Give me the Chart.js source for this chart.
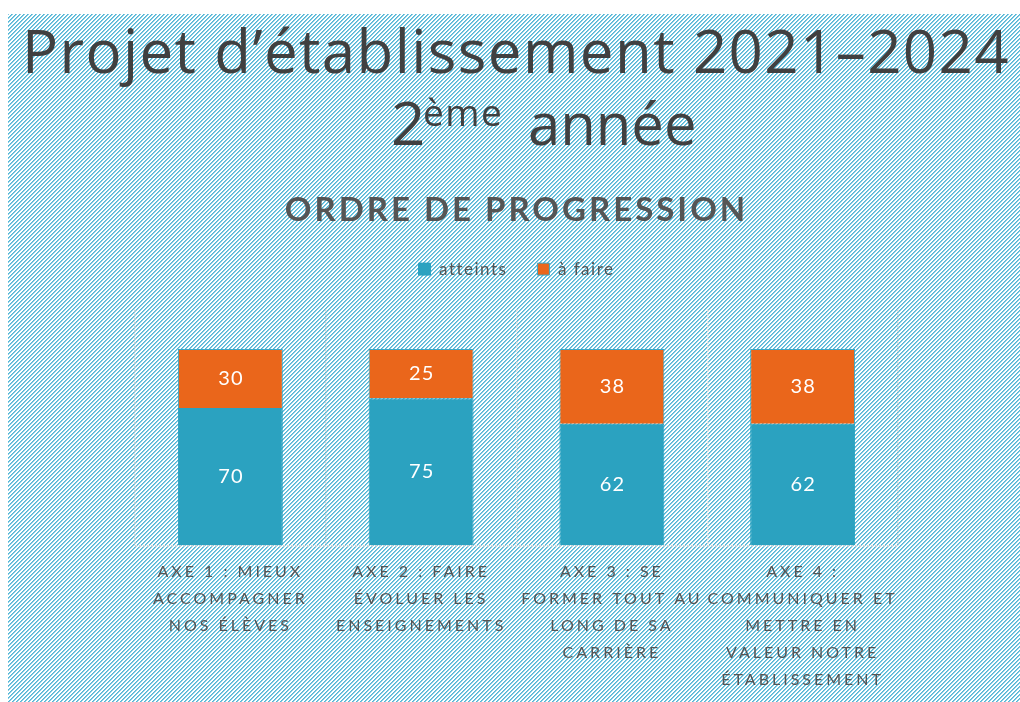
<!DOCTYPE html>
<html><head><meta charset="utf-8">
<script src="https://cdn.jsdelivr.net/npm/chart.js@4.4.1/dist/chart.umd.min.js"></script>
<style>
html,body{margin:0;padding:0;background:#fff;}
#wrap{position:relative;width:1020px;height:702px;overflow:hidden;}
canvas{position:absolute;left:0;top:0;}
.t{position:absolute;font-family:"Open Sans";color:#404040;white-space:nowrap;line-height:1;font-size:60px;letter-spacing:1.4px;}
.t span{position:absolute;top:0;line-height:1;}
</style></head><body>
<div id="wrap">
<canvas id="c" width="1020" height="702"></canvas>
<div class="t" id="t1" style="left:22px;top:20px;">Projet d’établissement 2021–2024</div>
<div class="t" id="t2" style="left:0;top:92px;width:1020px;height:70px;letter-spacing:0;"><span style="left:391px;">2</span><span style="left:423px;top:1px;font-size:37px;letter-spacing:1.5px;">ème</span><span style="left:528px;font-size:58px;top:2px;">année</span></div>
</div>
<script>
const categories = [
  ["AXE 1 : MIEUX", "ACCOMPAGNER", "NOS ÉLÈVES"],
  ["AXE 2 : FAIRE", "ÉVOLUER LES", "ENSEIGNEMENTS"],
  ["AXE 3 : SE", "FORMER TOUT AU", "LONG DE SA", "CARRIÈRE"],
  ["AXE 4 :", "COMMUNIQUER ET", "METTRE EN", "VALEUR NOTRE", "ÉTABLISSEMENT"]
];
const seriesNames = ["atteints", "à faire"];
const atteints = [70, 75, 62, 62];
const aFaire = [30, 25, 38, 38];
const chartTitle = "ORDRE DE PROGRESSION";

const BLUE = '#2ba2c0';
const ORANGE = '#ea661b';
const GRAY = '#555555';

function makePattern(ctx) {
  const p = document.createElement('canvas');
  p.width = 4; p.height = 4;
  const g = p.getContext('2d');
  g.fillStyle = '#ffffff'; g.fillRect(0, 0, 4, 4);
  for (let x = 0; x < 4; x++) {
    g.fillStyle = '#52b6d6';
    g.fillRect(x, 3 - x, 1, 1);
    g.fillStyle = '#86cbe2';
    g.fillRect(x, (4 - x) % 4, 1, 1);
  }
  return ctx.createPattern(p, 'repeat');
}

const bgPlugin = {
  id: 'bg',
  beforeDraw(chart) {
    const ctx = chart.ctx;
    ctx.save();
    ctx.fillStyle = '#fff';
    ctx.fillRect(0, 0, chart.width, chart.height);
    ctx.translate(8, 14);
    ctx.fillStyle = makePattern(ctx);
    ctx.fillRect(0, 0, chart.width - 8, chart.height - 14);
    ctx.restore();
  }
};

const spacingPlugin = {
  id: 'spacing',
  beforeLayout(chart) { chart.ctx.letterSpacing = '1.5px'; },
  beforeDraw(chart) {
    chart.ctx.letterSpacing = '1.5px';
    const s = chart.scales.x;
    if (s && !s.__w) {
      const o = s.drawLabels;
      s.drawLabels = function (a) { const c = this.ctx; c.save(); c.letterSpacing = '3px'; o.call(this, a); c.restore(); };
      s.__w = true;
    }
    const t = chart.titleBlock;
    if (t && !t.__w) {
      const o = t.draw;
      t.draw = function (a) { const c = this.ctx; c.save(); c.letterSpacing = '3px'; o.call(this, a); c.restore(); };
      t.__w = true;
    }
  }
};

const valuesPlugin = {
  id: 'vals',
  afterDatasetsDraw(chart) {
    const ctx = chart.ctx;
    ctx.save();
    ctx.letterSpacing = '1px';
    ctx.font = '20px Lato';
    ctx.fillStyle = '#ffffff';
    ctx.textAlign = 'center';
    ctx.textBaseline = 'middle';
    chart.data.datasets.forEach((ds, i) => {
      const meta = chart.getDatasetMeta(i);
      meta.data.forEach((el, j) => {
        const p = el.getProps(['x', 'y', 'base'], true);
        ctx.fillText(String(ds.data[j]), p.x + 0.5, (p.y + p.base) / 2);
      });
    });
    ctx.restore();
  }
};

new Chart(document.getElementById('c'), {
  type: 'bar',
  data: {
    labels: categories,
    datasets: [
      { label: seriesNames[0], data: atteints, backgroundColor: BLUE, borderColor: BLUE, borderWidth: 1, barPercentage: 0.55, categoryPercentage: 1 },
      { label: seriesNames[1], data: aFaire, backgroundColor: ORANGE, borderColor: '#3aa8c6', borderWidth: 1, barPercentage: 0.55, categoryPercentage: 1 }
    ]
  },
  plugins: [bgPlugin, spacingPlugin, valuesPlugin],
  options: {
    responsive: false,
    animation: false,
    devicePixelRatio: 1,
    layout: { padding: { top: 191, left: 135, right: 122, bottom: -3 } },
    plugins: {
      title: { display: true, text: chartTitle, color: GRAY, font: { family: 'Lato', size: 33, weight: 'bold' }, padding: { top: 0, bottom: 0 } },
      subtitle: { display: true, text: '', weight: 900, font: { size: 10, lineHeight: 1 }, padding: { top: 0, bottom: 12 } },
      legend: { position: 'top', weight: 1000, labels: { color: GRAY, font: { family: 'Lato', size: 17 }, boxWidth: 12, boxHeight: 12, padding: 30 } },
      tooltip: { enabled: false }
    },
    scales: {
      x: {
        stacked: true,
        grid: { color: '#d9d9d9', lineWidth: 1.5, drawTicks: false, offset: true },
        border: { display: false, dash: [2, 2] },
        ticks: { color: GRAY, font: { family: 'Lato', size: 16, lineHeight: '27px' }, padding: 12, maxRotation: 0, minRotation: 0, autoSkip: false }
      },
      y: {
        stacked: true, min: 0, max: 120,
        ticks: { display: false },
        grid: { color: (c) => (c.tick && c.tick.value === 0 ? '#d9d9d9' : 'rgba(0,0,0,0)'), lineWidth: 1.5, drawTicks: false },
        border: { display: false, dash: [2, 2] }
      }
    }
  }
});
</script>
</body></html>
